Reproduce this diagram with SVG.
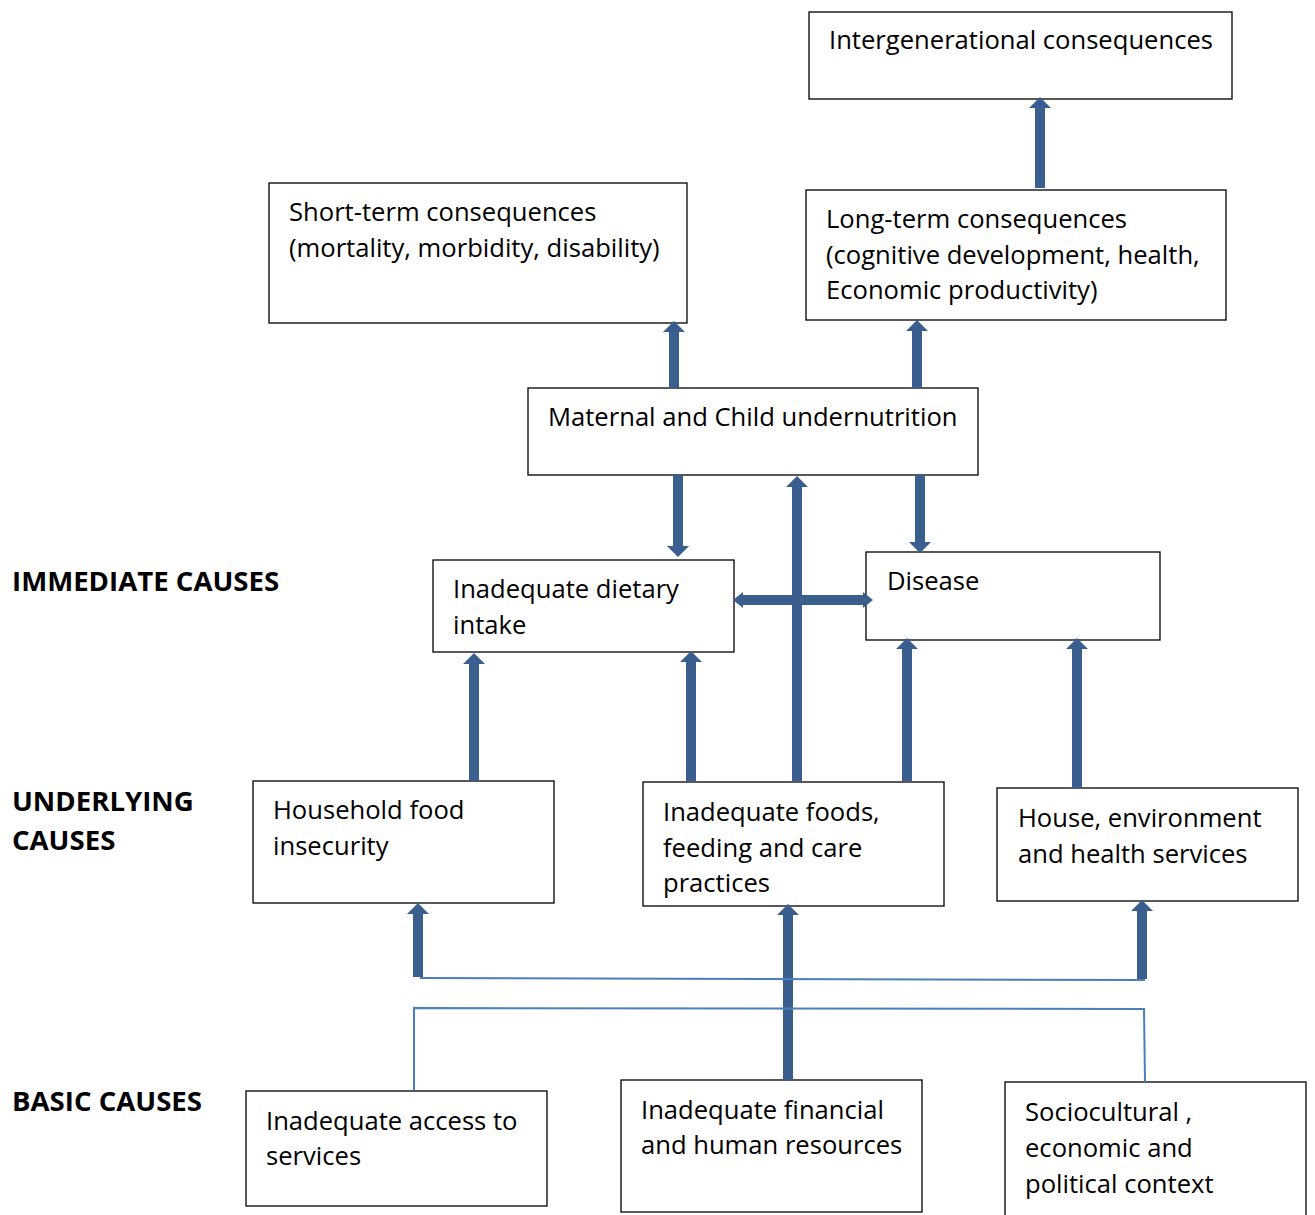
<svg xmlns="http://www.w3.org/2000/svg" width="1315" height="1215" viewBox="0 0 1315 1215">
<style>
.box{fill:#fff;stroke:#000;stroke-width:1.3}
.t{font-family:"Open Sans","Noto Sans",sans-serif;font-size:25.6px;fill:#000}
.h{font-family:"Open Sans","Liberation Sans",sans-serif;font-size:27.6px;font-weight:bold;fill:#000}
.ar{fill:#3a5f8f}
.thin{stroke:#4a7ebf;stroke-width:2;fill:none}
</style>
<rect width="1315" height="1215" fill="#fff"/>
<g id="labels">
<text class="h" x="12" y="591">IMMEDIATE CAUSES</text>
<text class="h" x="12" y="811">UNDERLYING</text>
<text class="h" x="12" y="850">CAUSES</text>
<text class="h" x="12" y="1111">BASIC CAUSES</text>
</g>
<g id="n-intergen"><rect class="box" x="809" y="12" width="423" height="87"/><text class="t" x="829" y="49">Intergenerational consequences</text></g>
<g id="n-short"><rect class="box" x="269" y="183" width="418" height="140"/><text class="t" x="289" y="221">Short-term consequences</text><text class="t" x="289" y="257">(mortality, morbidity, disability)</text></g>
<g id="n-long"><rect class="box" x="806" y="190" width="420" height="130"/><text class="t" x="826" y="228">Long-term consequences</text><text class="t" x="826" y="264">(cognitive development, health,</text><text class="t" x="826" y="299">Economic productivity)</text></g>
<g id="n-maternal"><rect class="box" x="528" y="388" width="450" height="87"/><text class="t" x="548" y="426">Maternal and Child undernutrition</text></g>
<g id="n-dietary"><rect class="box" x="433" y="560" width="301" height="92"/><text class="t" x="453" y="598">Inadequate dietary</text><text class="t" x="453" y="634">intake</text></g>
<g id="n-disease"><rect class="box" x="866" y="552" width="294" height="88"/><text class="t" x="887" y="590">Disease</text></g>
<g id="n-household"><rect class="box" x="253" y="781" width="301" height="122"/><text class="t" x="273" y="819">Household food</text><text class="t" x="273" y="855">insecurity</text></g>
<g id="n-foods"><rect class="box" x="643" y="782" width="301" height="124"/><text class="t" x="663" y="821">Inadequate foods,</text><text class="t" x="663" y="857">feeding and care</text><text class="t" x="663" y="892">practices</text></g>
<g id="n-house"><rect class="box" x="997" y="788" width="301" height="113"/><text class="t" x="1018" y="827">House, environment</text><text class="t" x="1018" y="863">and health services</text></g>
<g id="n-access"><rect class="box" x="246" y="1091" width="301" height="115"/><text class="t" x="266" y="1130">Inadequate access to</text><text class="t" x="266" y="1165">services</text></g>
<g id="n-financial"><rect class="box" x="621" y="1080" width="301" height="132"/><text class="t" x="641" y="1119">Inadequate financial</text><text class="t" x="641" y="1154">and human resources</text></g>
<g id="n-socio"><rect class="box" x="1005" y="1082" width="301" height="140"/><text class="t" x="1025" y="1121">Sociocultural ,</text><text class="t" x="1025" y="1157">economic and</text><text class="t" x="1025" y="1193">political context</text></g>
<g id="connectors">
<polygon class="ar" points="1035,188 1035,108 1029,108 1040,97 1051,108 1045,108 1045,188"/>
<polygon class="ar" points="669,388 669,332 663,332 674,321 685,332 679,332 679,388"/>
<polygon class="ar" points="912,388 912,331 906,331 917,320 928,331 922,331 922,388"/>
<polygon class="ar" points="673,475 673,546 667,546 678,557 689,546 683,546 683,475"/>
<polygon class="ar" points="915,475 915,542 909,542 920,553 931,542 925,542 925,475"/>
<polygon class="ar" points="792,781 792,487 786,487 797,476 808,487 802,487 802,781"/>
<polygon class="ar" points="733,600 743,592 743,595 863,595 863,592 873,600 863,608 863,605 743,605 743,608"/>
<polygon class="ar" points="469,781 469,664 463,664 474,653 485,664 479,664 479,781"/>
<polygon class="ar" points="686,781 686,662 680,662 691,651 702,662 696,662 696,781"/>
<polygon class="ar" points="902,781 902,649 896,649 907,638 918,649 912,649 912,781"/>
<polygon class="ar" points="1072,788 1072,649 1066,649 1077,638 1088,649 1082,649 1082,788"/>
<polygon class="ar" points="783,1080 783,915 777,915 788,904 799,915 793,915 793,1080"/>
<polygon class="ar" points="413,977 413,914 407,914 418,903 429,914 423,914 423,977"/>
<polygon class="ar" points="1137,979 1137,911 1131,911 1142,900 1153,911 1147,911 1147,979"/>
<path class="thin" d="M420,978 L1145,980"/>
<path class="thin" d="M414,1090 L414,1008 L1144,1009 L1145,1082"/>
</g>
</svg>
